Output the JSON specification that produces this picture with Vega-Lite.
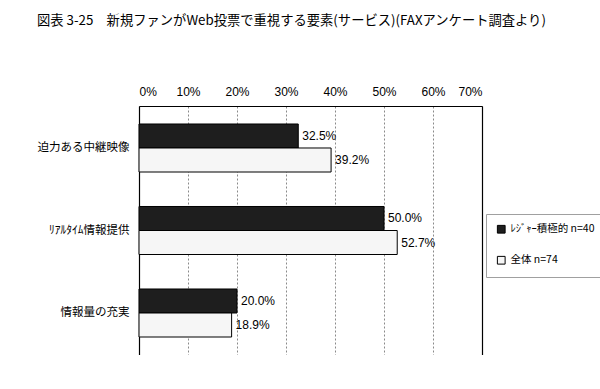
{
  "$schema": "https://vega.github.io/schema/vega-lite/v6.json",
  "width": 343,
  "height": 249,
  "padding": {"left": 37, "top": 13, "right": 0, "bottom": 0},
  "background": "white",
  "title": {
    "text": "図表 3-25　新規ファンがWeb投票で重視する要素(サービス)(FAXアンケート調査より)",
    "anchor": "start",
    "frame": "bounds",
    "font": "Noto Sans CJK JP",
    "fontSize": 13.3,
    "fontWeight": "normal",
    "color": "black",
    "offset": 58
  },
  "data": {
    "values": [
      {"item": "迫力ある中継映像", "group": "ﾚｼﾞｬｰ積極的  n=40", "value": 0.325},
      {"item": "迫力ある中継映像", "group": "全体  n=74", "value": 0.392},
      {"item": "ﾘｱﾙﾀｲﾑ情報提供", "group": "ﾚｼﾞｬｰ積極的  n=40", "value": 0.5},
      {"item": "ﾘｱﾙﾀｲﾑ情報提供", "group": "全体  n=74", "value": 0.527},
      {"item": "情報量の充実", "group": "ﾚｼﾞｬｰ積極的  n=40", "value": 0.2},
      {"item": "情報量の充実", "group": "全体  n=74", "value": 0.189}
    ]
  },
  "encoding": {
    "yOffset": {
      "field": "group",
      "type": "nominal",
      "sort": ["ﾚｼﾞｬｰ積極的  n=40", "全体  n=74"],
      "scale": {"paddingInner": 0, "paddingOuter": 0}
    }
  },
  "layer": [
    {
      "mark": {"type": "bar", "stroke": "black", "strokeWidth": 1},
      "encoding": {
        "y": {
          "field": "item",
          "type": "nominal",
          "sort": ["迫力ある中継映像", "ﾘｱﾙﾀｲﾑ情報提供", "情報量の充実"],
          "scale": {"paddingInner": 0.418, "paddingOuter": 0.218},
          "axis": {
            "title": null,
            "ticks": false,
            "domain": true,
            "domainColor": "black",
            "domainWidth": 1.2,
            "labelPadding": 10,
            "labelFontSize": 11.5,
            "labelFont": "Noto Sans CJK JP",
            "labelColor": "black"
          }
        },
        "x": {
          "field": "value",
          "type": "quantitative",
          "scale": {"domain": [0, 0.7], "nice": false},
          "axis": {
            "orient": "top",
            "title": null,
            "format": ".0%",
            "values": [0, 0.1, 0.2, 0.3, 0.4, 0.5, 0.6, 0.7],
            "ticks": false,
            "domain": true,
            "domainColor": "black",
            "domainWidth": 1.2,
            "labelPadding": 8,
            "labelFontSize": 12,
            "labelFont": "Liberation Sans",
            "labelColor": "black",
            "grid": true,
            "gridColor": "#8a8a8a",
            "gridDash": [2, 2],
            "gridWidth": 1
          }
        },
        "color": {
          "field": "group",
          "type": "nominal",
          "sort": ["ﾚｼﾞｬｰ積極的  n=40", "全体  n=74"],
          "scale": {"domain": ["ﾚｼﾞｬｰ積極的  n=40", "全体  n=74"], "range": ["#1e1e1e", "#f6f6f6"]},
          "legend": {
            "title": null,
            "orient": "none",
            "legendX": 347,
            "legendY": 108,
            "symbolType": "square",
            "symbolSize": 60,
            "symbolStrokeColor": "black",
            "symbolStrokeWidth": 1,
            "labelFont": "Noto Sans CJK JP",
            "labelFontSize": 10.5,
            "labelColor": "black",
            "rowPadding": 18,
            "padding": 10,
            "strokeColor": "#a0a0a0",
            "fillColor": "white"
          }
        }
      }
    },
    {
      "mark": {"type": "text", "align": "left", "dx": 4, "font": "Liberation Sans", "fontSize": 12, "color": "black"},
      "encoding": {
        "y": {
          "field": "item",
          "type": "nominal",
          "sort": ["迫力ある中継映像", "ﾘｱﾙﾀｲﾑ情報提供", "情報量の充実"],
          "axis": {
            "orient": "right",
            "title": null,
            "ticks": false,
            "labels": false,
            "grid": false,
            "domain": true,
            "domainColor": "black",
            "domainWidth": 1.2
          }
        },
        "x": {
          "field": "value",
          "type": "quantitative",
          "axis": {
            "orient": "bottom",
            "title": null,
            "ticks": false,
            "labels": false,
            "grid": false,
            "domain": true,
            "domainColor": "black",
            "domainWidth": 1.2
          }
        },
        "text": {"field": "value", "type": "quantitative", "format": ".1%"}
      }
    }
  ],
  "resolve": {"axis": {"x": "independent", "y": "independent"}}
}
